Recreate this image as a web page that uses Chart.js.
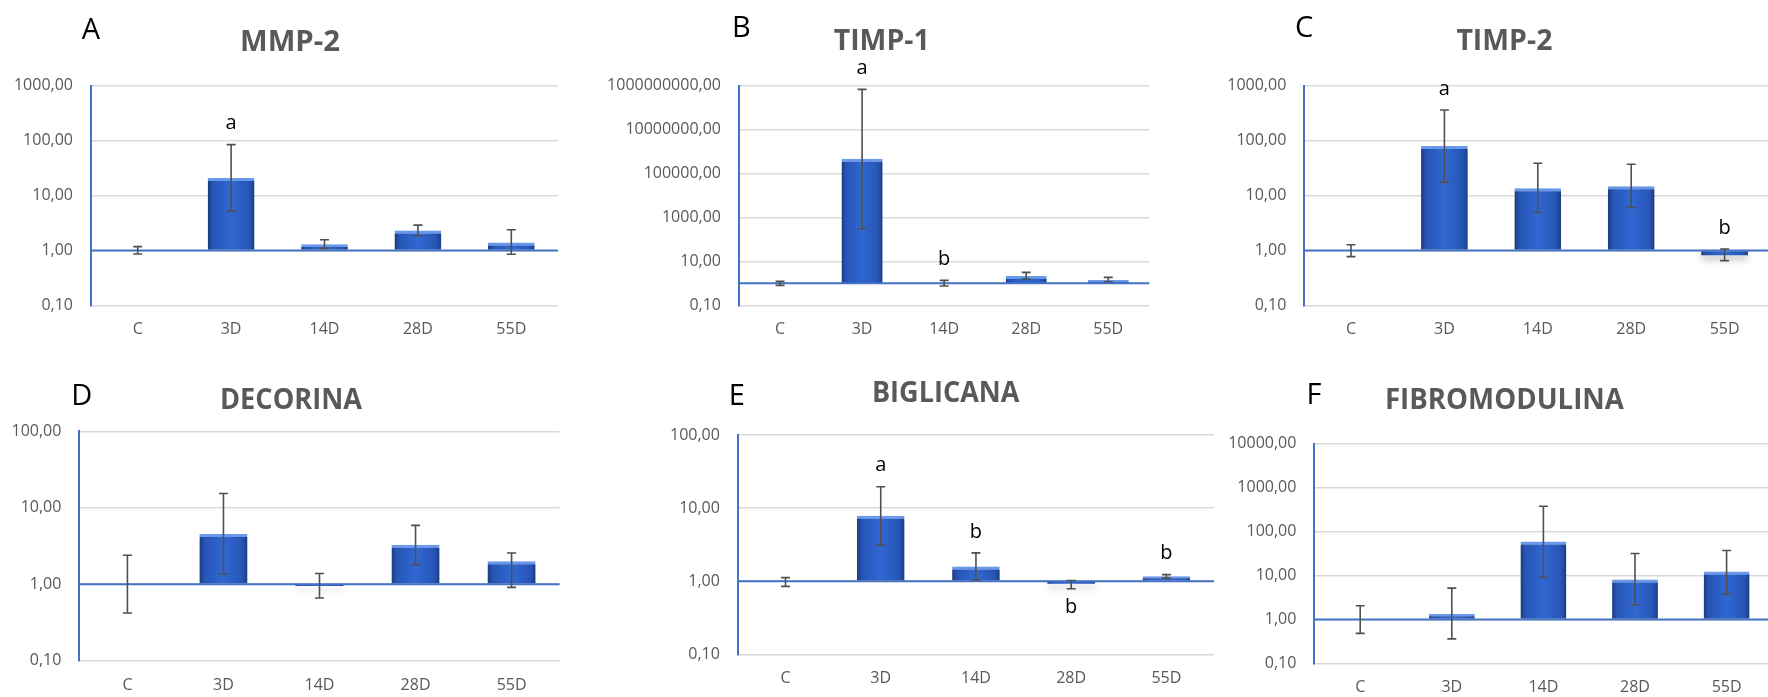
<!DOCTYPE html>
<html>
<head>
<meta charset="utf-8">
<script src="https://cdn.jsdelivr.net/npm/chart.js@4"></script>
<style>
  html, body { margin: 0; padding: 0; background: #ffffff; width: 1768px; height: 697px; overflow: hidden; position: relative; }
  canvas { position: absolute; }
</style>
</head>
<body>
<canvas id="cA"></canvas>
<canvas id="cB"></canvas>
<canvas id="cC"></canvas>
<canvas id="cD"></canvas>
<canvas id="cE"></canvas>
<canvas id="cF"></canvas>
<script>
// ---------------- DATA ----------------
const categories = ['C', '3D', '14D', '28D', '55D'];

// A: MMP-2
const mmp2Values  = [1.00, 20.9, 1.29, 2.31, 1.40];
const mmp2ErrHigh = [1.17, 84.6, 1.56, 2.89, 2.38];
const mmp2ErrLow  = [0.86, 5.19, 1.09, 1.85, 0.85];
const mmp2Letters = ['', 'a', '', '', ''];
const mmp2Ticks   = [0.1, 1, 10, 100, 1000];
const mmp2TickLabels = ['0,10', '1,00', '10,00', '100,00', '1000,00'];

// B: TIMP-1
const timp1Values  = [1.00, 470000, 1.00, 2.15, 1.42];
const timp1ErrHigh = [1.23, 680000000, 1.37, 3.16, 1.87];
const timp1ErrLow  = [0.81, 305, 0.76, 1.57, 1.19];
const timp1Letters = ['', 'a', 'b', '', ''];
const timp1Ticks   = [0.1, 10, 1000, 100000, 10000000, 1000000000];
const timp1TickLabels = ['0,10', '10,00', '1000,00', '100000,00', '10000000,00', '1000000000,00'];

// C: TIMP-2
const timp2Values  = [1.00, 80.0, 13.6, 14.8, 0.82];
const timp2ErrHigh = [1.27, 361, 38.7, 37.1, 1.06];
const timp2ErrLow  = [0.77, 17.5, 4.91, 6.05, 0.65];
const timp2Letters = ['', 'a', '', '', 'b'];
const timp2Ticks   = [0.1, 1, 10, 100, 1000];
const timp2TickLabels = ['0,10', '1,00', '10,00', '100,00', '1000,00'];

// D: DECORINA
const decoValues  = [1.00, 4.53, 0.95, 3.29, 2.00];
const decoErrHigh = [2.39, 15.4, 1.38, 5.88, 2.56];
const decoErrLow  = [0.42, 1.36, 0.66, 1.79, 0.91];
const decoLetters = ['', '', '', '', ''];
const decoTicks   = [0.1, 1, 10, 100];
const decoTickLabels = ['0,10', '1,00', '10,00', '100,00'];

// E: BIGLICANA
const bigValues  = [1.00, 7.85, 1.59, 0.92, 1.17];
const bigErrHigh = [1.12, 19.6, 2.44, 1.02, 1.23];
const bigErrLow  = [0.85, 3.11, 1.04, 0.79, 1.10];
const bigLetters = ['', 'a', 'b', 'b', 'b'];
const bigLetterBelow = [false, false, false, true, false];
const bigTicks   = [0.1, 1, 10, 100];
const bigTickLabels = ['0,10', '1,00', '10,00', '100,00'];

// F: FIBROMODULINA
const fibValues  = [1.00, 1.32, 59.3, 8.11, 12.3];
const fibErrHigh = [2.05, 5.15, 376, 31.6, 37.0];
const fibErrLow  = [0.48, 0.36, 9.0, 2.12, 3.77];
const fibLetters = ['', '', '', '', ''];
const fibTicks   = [0.1, 1, 10, 100, 1000, 10000];
const fibTickLabels = ['0,10', '1,00', '10,00', '100,00', '1000,00', '10000,00'];

// ---------------- STYLE / LAYOUT ----------------
Chart.defaults.font.family = '"Open Sans", "Liberation Sans", sans-serif';
const FONT = '"Open Sans", "Liberation Sans", sans-serif';

function decorPlugin(p, g) {
  return {
    id: 'decor_' + p.panel,
    beforeDatasetsDraw(chart) {
      const ctx = chart.ctx;
      ctx.save();
      ctx.shadowColor = 'rgba(0,0,0,0.33)';
      ctx.shadowBlur = 7;
      ctx.shadowOffsetX = 0;
      ctx.shadowOffsetY = 4;
    },
    afterDatasetsDraw(chart) {
      const ctx = chart.ctx;
      ctx.restore();
      const area = chart.chartArea;
      const ys = chart.scales.y;
      const meta = chart.getDatasetMeta(0);
      ctx.save();
      // horizontal axis crossing at 1
      const yb = ys.getPixelForValue(1);
      ctx.strokeStyle = '#4472C4';
      ctx.lineWidth = 2;
      ctx.beginPath();
      ctx.moveTo(area.left, yb);
      ctx.lineTo(area.right, yb);
      ctx.stroke();
      // error bars
      ctx.strokeStyle = '#505050';
      ctx.lineWidth = 1.6;
      const cap = 4.5;
      p.errHigh.forEach((hi, i) => {
        const x = meta.data[i].x;
        const y1 = ys.getPixelForValue(hi);
        const y2 = ys.getPixelForValue(p.errLow[i]);
        ctx.beginPath();
        ctx.moveTo(x, y1); ctx.lineTo(x, y2);
        ctx.moveTo(x - cap, y1); ctx.lineTo(x + cap, y1);
        ctx.moveTo(x - cap, y2); ctx.lineTo(x + cap, y2);
        ctx.stroke();
      });
      // significance letters
      ctx.fillStyle = '#000000';
      ctx.font = '20px ' + FONT;
      ctx.textAlign = 'center';
      ctx.textBaseline = 'middle';
      p.letters.forEach((t, i) => {
        if (!t) return;
        const x = meta.data[i].x;
        const below = p.letterBelow && p.letterBelow[i];
        const y = below ? ys.getPixelForValue(p.errLow[i]) + 19 : ys.getPixelForValue(p.errHigh[i]) - 21;
        ctx.fillText(t, x, y);
      });
      ctx.restore();
    },
    afterDraw(chart) {
      const ctx = chart.ctx;
      ctx.save();
      // title (bold grey), scaled horizontally to the reference width
      ctx.font = 'bold 28px ' + FONT;
      ctx.fillStyle = '#595959';
      ctx.textAlign = 'center';
      ctx.textBaseline = 'alphabetic';
      const mw = ctx.measureText(p.title).width;
      const sx = g.titleW / mw;
      ctx.translate(g.titleX - g.left, g.titleY - g.top + 0.357 * 28);
      ctx.scale(sx, 1);
      ctx.fillText(p.title, 0, 0);
      ctx.restore();
      // panel letter
      ctx.save();
      ctx.font = '29px ' + FONT;
      ctx.fillStyle = '#000000';
      ctx.textAlign = 'center';
      ctx.textBaseline = 'alphabetic';
      ctx.fillText(p.panel, g.letterX - g.left, g.letterY - g.top + 0.357 * 29);
      ctx.restore();
    }
  };
}

function barFill(c) {
  const chart = c.chart;
  const xs = chart.scales.x;
  if (!xs || c.dataIndex === undefined || !xs.width) return '#2F64CC';
  const x = xs.getPixelForValue(c.dataIndex);
  const w = (xs.width / categories.length) * 0.5;
  const gr = chart.ctx.createLinearGradient(x - w / 2, 0, x + w / 2, 0);
  gr.addColorStop(0, '#1A3A80');
  gr.addColorStop(0.1, '#2654B4');
  gr.addColorStop(0.5, '#3068D2');
  gr.addColorStop(0.9, '#2654B4');
  gr.addColorStop(1, '#1A3A80');
  return gr;
}

function makePanel(id, g, p) {
  const cv = document.getElementById(id);
  cv.width = g.w; cv.height = g.h;
  cv.style.left = g.left + 'px'; cv.style.top = g.top + 'px';
  cv.style.width = g.w + 'px'; cv.style.height = g.h + 'px';
  const xH = 42;
  const yW = g.plotLeft - g.left;
  const padTop = g.plotTop - g.top;
  const padRight = g.left + g.w - g.plotRight;
  const padBottom = g.top + g.h - g.plotBottom - xH;
  new Chart(cv, {
    type: 'bar',
    data: {
      labels: categories,
      datasets: [{
        data: p.values,
        base: 1,
        backgroundColor: barFill,
        borderColor: '#6A9BF0',
        borderWidth: { top: 3, right: 0, bottom: 0, left: 0 },
        barPercentage: 0.5,
        categoryPercentage: 1.0
      }]
    },
    options: {
      responsive: false,
      animation: false,
      events: [],
      devicePixelRatio: 1,
      layout: { padding: { left: 0, right: padRight, top: padTop, bottom: padBottom } },
      plugins: { legend: { display: false }, title: { display: false }, tooltip: { enabled: false } },
      scales: {
        x: {
          grid: { display: false, drawTicks: false },
          border: { display: false },
          ticks: { color: '#595959', font: { size: 16 }, padding: 15 },
          afterFit: (s) => { s.height = xH; }
        },
        y: {
          type: 'logarithmic',
          min: p.ticks[0],
          max: p.ticks[p.ticks.length - 1],
          afterBuildTicks: (s) => { s.ticks = p.ticks.map(v => ({ value: v })); },
          ticks: { callback: (v, i) => p.tickLabels[i], color: '#595959', font: { size: 16 }, padding: 18 },
          grid: { color: '#D9D9D9', lineWidth: 1.5, drawTicks: false },
          border: { display: true, color: '#4472C4', width: 2 },
          afterFit: (s) => { s.width = yW; }
        }
      }
    },
    plugins: [decorPlugin(p, g)]
  });
}

makePanel('cA',
  { left: 0, top: 0, w: 590, h: 350, plotLeft: 91, plotRight: 558, plotTop: 85.7, plotBottom: 305.3,
    titleX: 290, titleY: 41.2, titleW: 100, letterX: 91, letterY: 28.8 },
  { panel: 'A', title: 'MMP-2', values: mmp2Values, errHigh: mmp2ErrHigh, errLow: mmp2ErrLow,
    letters: mmp2Letters, ticks: mmp2Ticks, tickLabels: mmp2TickLabels });

makePanel('cB',
  { left: 590, top: 0, w: 590, h: 350, plotLeft: 739, plotRight: 1149.3, plotTop: 85.7, plotBottom: 305.3,
    titleX: 881.7, titleY: 40.3, titleW: 96, letterX: 741.3, letterY: 26.3 },
  { panel: 'B', title: 'TIMP-1', values: timp1Values, errHigh: timp1ErrHigh, errLow: timp1ErrLow,
    letters: timp1Letters, ticks: timp1Ticks, tickLabels: timp1TickLabels });

makePanel('cC',
  { left: 1180, top: 0, w: 596, h: 350, plotLeft: 1304.3, plotRight: 1771.3, plotTop: 85.7, plotBottom: 305.3,
    titleX: 1504.4, titleY: 40.3, titleW: 96, letterX: 1304.2, letterY: 26.3 },
  { panel: 'C', title: 'TIMP-2', values: timp2Values, errHigh: timp2ErrHigh, errLow: timp2ErrLow,
    letters: timp2Letters, ticks: timp2Ticks, tickLabels: timp2TickLabels });

makePanel('cD',
  { left: 0, top: 350, w: 590, h: 365, plotLeft: 79.4, plotRight: 559.6, plotTop: 431.3, plotBottom: 660.7,
    titleX: 291, titleY: 399.3, titleW: 142, letterX: 81.7, letterY: 394.2 },
  { panel: 'D', title: 'DECORINA', values: decoValues, errHigh: decoErrHigh, errLow: decoErrLow,
    letters: decoLetters, ticks: decoTicks, tickLabels: decoTickLabels });

makePanel('cE',
  { left: 590, top: 350, w: 630, h: 365, plotLeft: 737.9, plotRight: 1214, plotTop: 435, plotBottom: 654.3,
    titleX: 945.7, titleY: 391.7, titleW: 147.5, letterX: 736.8, letterY: 395 },
  { panel: 'E', title: 'BIGLICANA', values: bigValues, errHigh: bigErrHigh, errLow: bigErrLow,
    letters: bigLetters, letterBelow: bigLetterBelow, ticks: bigTicks, tickLabels: bigTickLabels });

makePanel('cF',
  { left: 1220, top: 350, w: 556, h: 365, plotLeft: 1314.4, plotRight: 1772.4, plotTop: 443.7, plotBottom: 663.3,
    titleX: 1504.4, titleY: 399.3, titleW: 239, letterX: 1314, letterY: 394 },
  { panel: 'F', title: 'FIBROMODULINA', values: fibValues, errHigh: fibErrHigh, errLow: fibErrLow,
    letters: fibLetters, ticks: fibTicks, tickLabels: fibTickLabels });
</script>
</body>
</html>
